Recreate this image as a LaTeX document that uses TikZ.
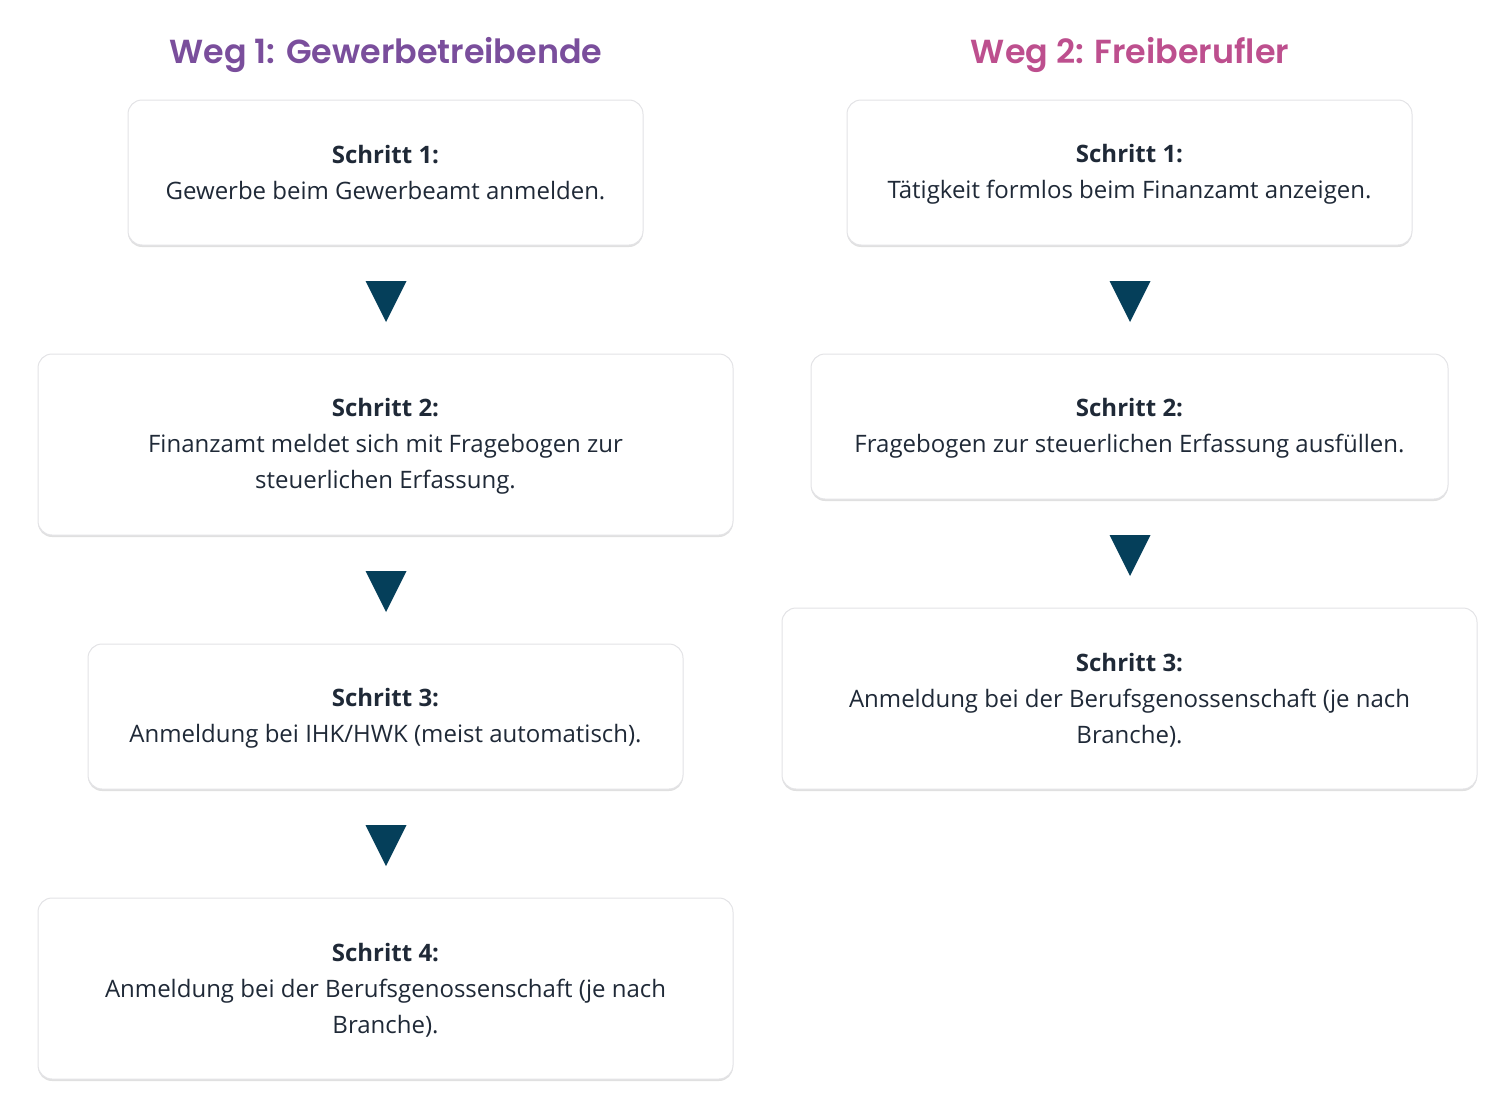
\documentclass[tikz,border=0pt]{standalone}
\usepackage{fontspec}
\setmainfont{Open Sans}
\newfontfamily\titlefont{Poppins SemiBold}
\usetikzlibrary{shadows}
\definecolor{txt}{HTML}{1F2937}
\definecolor{ttlA}{HTML}{7A4E9C}
\definecolor{ttlB}{HTML}{BD4F8E}
\definecolor{tri}{HTML}{053F5A}
\definecolor{bord}{HTML}{E3E3E6}
\newcommand{\lstrut}{\rule[-2.3pt]{0pt}{18.3pt}}
\tikzset{
  stepbox/.style={draw=bord, line width=0.75pt, fill=white, rounded corners=10.5pt,
    align=center, text=txt, inner sep=0pt,
    font=\fontsize{18}{27}\selectfont,
    drop shadow={opacity=0.12, shadow xshift=0pt, shadow yshift=-1.5pt, fill=black}},
  titletext/.style={font=\titlefont\fontsize{25}{30}\selectfont, inner sep=0pt},
}
\newcommand{\downtri}[2]{\fill[tri] (#1-20.5,#2) -- (#1+20.5,#2) -- (#1,#2+41) -- cycle;}
\begin{document}
\begin{tikzpicture}[x=0.75pt,y=-0.75pt]
\useasboundingbox (0,0) rectangle (1507,1110);
% titles
\node[titletext, text=ttlA] (t1) at (386,55) {Weg 1: Gewerbetreibende};
\node[titletext, text=ttlB] (t2) at (1130,55) {Weg 2: Freiberufler};
% left column
\node[stepbox, minimum width=386.25pt, minimum height=108.75pt] (a1) at (385.5,172.5)
  {\lstrut\textbf{Schritt 1:}\\Gewerbe beim Gewerbeamt anmelden.\lstrut};
\node[stepbox, minimum width=521.25pt, minimum height=135.75pt] (a2) at (385.5,444.5)
  {\lstrut\textbf{Schritt 2:}\\Finanzamt meldet sich mit Fragebogen zur\\steuerlichen Erfassung.\lstrut};
\node[stepbox, minimum width=446.25pt, minimum height=108.75pt] (a3) at (385.5,716.5)
  {\lstrut\textbf{Schritt 3:}\\Anmeldung bei IHK/HWK (meist automatisch).\lstrut};
\node[stepbox, minimum width=521.25pt, minimum height=135.75pt] (a4) at (385.5,988.5)
  {\lstrut\textbf{Schritt 4:}\\Anmeldung bei der Berufsgenossenschaft (je nach\\Branche).\lstrut};
% right column
\node[stepbox, minimum width=423.75pt, minimum height=108.75pt] (b1) at (1129.5,172.5)
  {\lstrut\textbf{Schritt 1:}\\Tätigkeit formlos beim Finanzamt anzeigen.\lstrut};
\node[stepbox, minimum width=477.75pt, minimum height=108.75pt] (b2) at (1129.5,426.5)
  {\lstrut\textbf{Schritt 2:}\\Fragebogen zur steuerlichen Erfassung ausfüllen.\lstrut};
\node[stepbox, minimum width=521.25pt, minimum height=135.75pt] (b3) at (1129.5,698.5)
  {\lstrut\textbf{Schritt 3:}\\Anmeldung bei der Berufsgenossenschaft (je nach\\Branche).\lstrut};
% triangles
\downtri{386}{281}
\downtri{386}{571}
\downtri{386}{825}
\downtri{1130}{281}
\downtri{1130}{535}
\end{tikzpicture}
\end{document}
